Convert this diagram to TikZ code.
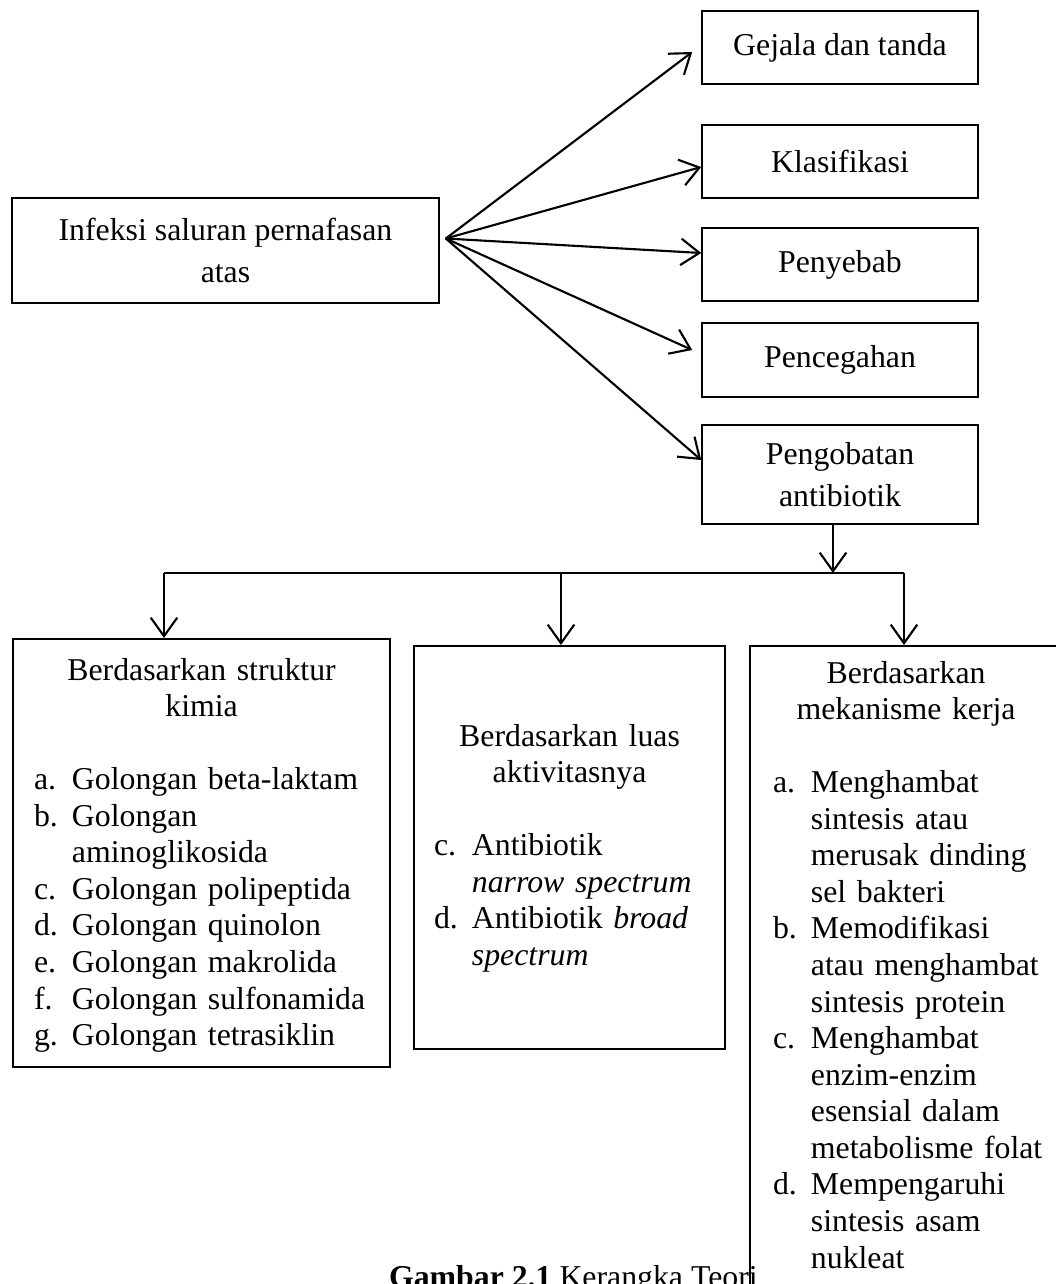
\documentclass[tikz,border=0pt]{standalone}
\usepackage{fontspec}
\setmainfont{Liberation Serif}
\usepackage{tikz}
\usetikzlibrary{positioning,calc,arrows.meta}

\newcommand{\pxu}{0.3774pt}
\newcommand{\listitem}[2]{\par\hangindent=14.3pt\hangafter=1\noindent\makebox[14.3pt][l]{#1}#2}

\begin{document}
\begin{tikzpicture}[x=\pxu, y=-\pxu,
	>={Straight Barb[length=7pt,width=10pt]},
	line width=0.8pt,
	squanode/.style={rectangle, draw=black, line width=0.6pt, inner sep=0pt, minimum width=276*\pxu, minimum height=73*\pxu, align=center, font=\fontsize{12}{15.8}\selectfont},
	framenode/.style={rectangle, draw=black, line width=0.6pt, anchor=north west, inner sep=0pt, fill=white},
	listnode/.style={anchor=base west, inner sep=0pt, align=left, font={\fontsize{12}{13.8}\selectfont\hyphenpenalty=10000\exhyphenpenalty=10000}},
	]
	\useasboundingbox (0,0) rectangle (1056,1284);
	
	%Nodes
	\node[squanode, minimum width=427*\pxu, minimum height=105*\pxu] (Infeksi) at (225.5,250.5) {Infeksi saluran pernafasan\\atas};
	\node[squanode] (Gejala) at (840,47.5) {Gejala dan tanda};
	\node[squanode] (Klasifikasi) at (840,161.5) {Klasifikasi};
	\node[squanode] (Penyebab) at (840,264.5) {Penyebab};
	\node[squanode, minimum height=74*\pxu] (Pencegahan) at (840,360) {Pencegahan};
	\node[squanode, minimum height=99*\pxu] (Pengobatan) at (840,474.5) {Pengobatan\\antibiotik};
	
	\node[framenode, minimum width=377*\pxu, minimum height=428*\pxu] (Struktur) at (12,638) {};
	\node[framenode, minimum width=311*\pxu, minimum height=403*\pxu] (Luas) at (413,645) {};
	\node[framenode, minimum width=312*\pxu, minimum height=760*\pxu] (Mekanisme) at (749,645) {};
	
	\node[listnode, text width=335*\pxu] (StrukturText) at (33,680) {%
		{\centering Berdasarkan struktur\\kimia\par}\vspace{13.8pt}%
		\listitem{a.}{Golongan beta-laktam}%
		\listitem{b.}{Golongan\newline aminoglikosida}%
		\listitem{c.}{Golongan polipeptida}%
		\listitem{d.}{Golongan quinolon}%
		\listitem{e.}{Golongan makrolida}%
		\listitem{f.}{Golongan sulfonamida}%
		\listitem{g.}{Golongan tetrasiklin}\par};
	\node[listnode, text width=271*\pxu] (LuasText) at (433,746) {%
		{\centering Berdasarkan luas\\aktivitasnya\par}\vspace{13.8pt}%
		\listitem{c.}{Antibiotik\newline \textit{narrow spectrum}}%
		\listitem{d.}{Antibiotik \textit{broad}\newline \textit{spectrum}}\par};
	\node[listnode, text width=290*\pxu] (MekanismeText) at (772,683) {%
		{\centering\rightskip=9.06pt plus 1fil Berdasarkan\\mekanisme kerja\par}\vspace{13.8pt}%
		\listitem{a.}{Menghambat\newline sintesis atau\newline merusak dinding\newline sel bakteri}%
		\listitem{b.}{Memodifikasi\newline atau menghambat\newline sintesis protein}%
		\listitem{c.}{Menghambat\newline enzim-enzim\newline esensial dalam\newline metabolisme folat}%
		\listitem{d.}{Mempengaruhi\newline sintesis asam\newline nukleat}\par};
	
	\node[anchor=base west, inner sep=0pt, font=\fontsize{12}{13.8}\selectfont] (Caption) at (388,1287) {\textbf{Gambar 2.1} Kerangka Teori};
	
	%Lines
	\coordinate (Src) at ($(Infeksi.east)+(6,-12)$);
	\draw[->] (Src) -- ($(Gejala.west)+(-9,4.5)$);
	\draw[->] (Src) -- ($(Klasifikasi.west)+(0,5.5)$);
	\draw[->] (Src) -- ($(Penyebab.west)+(0,-11.5)$);
	\draw[->] (Src) -- ($(Pencegahan.west)+(-9,-10)$);
	\draw[->] (Src) -- ($(Pengobatan.west)+(0,-14.5)$);
	
	\coordinate (BarJoin) at (833,573);
	\coordinate (BarL) at (164,573);
	\coordinate (BarM) at (561,573);
	\coordinate (BarR) at (904,573);
	\draw[->] (Pengobatan.south -| BarJoin) -- (BarJoin);
	\draw (BarL) -- (BarR);
	\draw[->] (BarL) -- (BarL |- Struktur.north);
	\draw[->] (BarM) -- (BarM |- Luas.north);
	\draw[->] (BarR) -- (BarR |- Mekanisme.north);
	
\end{tikzpicture}
\end{document}
